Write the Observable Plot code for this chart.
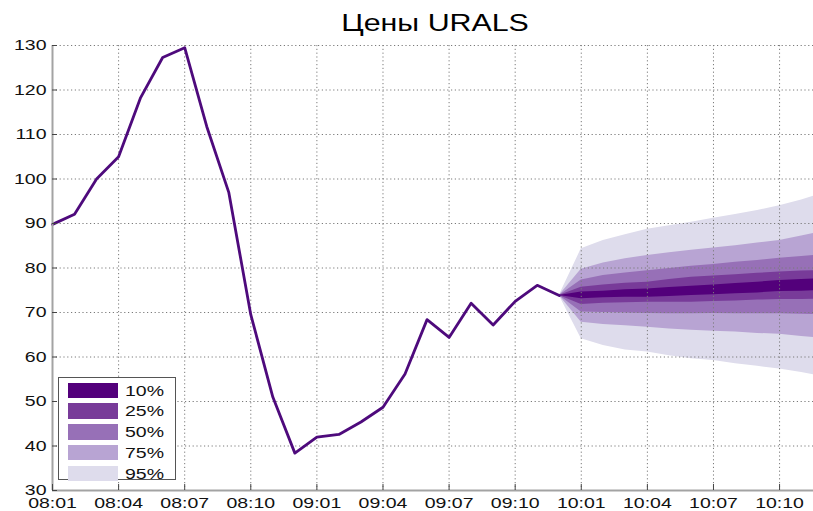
<!DOCTYPE html>
<html>
<head>
<meta charset="utf-8">
<script src="https://cdn.jsdelivr.net/npm/d3@7"></script>
<script src="https://cdn.jsdelivr.net/npm/@observablehq/plot@0.6"></script>
<style>
  html, body { margin: 0; padding: 0; background: #fff; overflow: hidden; }
  #wrap { position: relative; width: 813px; height: 511px; font-family: "Liberation Sans", Arial, sans-serif; }
  #title { position: absolute; left: 0; top: 12px; width: 870px; text-align: center; font-size: 23px; line-height: 23px; color: #000; }
  #title span { display: inline-block; transform: scaleX(1.32); transform-origin: center; }
  #legend { position: absolute; left: 58px; top: 377px; width: 118px; height: 103px; background: #fff; border: 1.3px solid #555; box-sizing: border-box; }
  .lrow { position: absolute; left: 9px; height: 16px; width: 110px; }
  .lsw { position: absolute; left: 0; top: 0; width: 50px; height: 15.5px; }
  .ltx { position: absolute; left: 57px; top: -1px; font-size: 15px; line-height: 18px; transform: scaleX(1.3); transform-origin: left center; color: #111; }
</style>
</head>
<body>
<div id="wrap">
  <div id="chart"></div>
  <div id="title"></div>
  <div id="legend"></div>
</div>
<script>
// ---- data ----
const chartTitle = "Цены URALS";
const months = [
  "08:01","08:02","08:03","08:04","08:05","08:06","08:07","08:08","08:09","08:10","08:11","08:12",
  "09:01","09:02","09:03","09:04","09:05","09:06","09:07","09:08","09:09","09:10","09:11","09:12",
  "10:01","10:02","10:03","10:04","10:05","10:06","10:07","10:08","10:09","10:10","10:11","10:12"
];
const xTickLabels = ["08:01","08:04","08:07","08:10","09:01","09:04","09:07","09:10","10:01","10:04","10:07","10:10"];
const yTicks = [30, 40, 50, 60, 70, 80, 90, 100, 110, 120, 130];

// actual prices 08:01 .. 09:12
const history = [89.8, 92.1, 100.0, 105.0, 118.3, 127.3, 129.5, 111.8, 97.0, 69.5, 51.0, 38.4,
                 42.0, 42.6, 45.4, 48.7, 56.2, 68.4, 64.4, 72.1, 67.2, 72.5, 76.1, 73.8];

// fan chart, months 09:12 .. 10:12
const fanStart = "09:12";
const p95hi = [73.8, 84.3, 86.2, 87.5, 88.7, 89.5, 90.3, 91.2, 92.0, 92.9, 94.0, 95.3, 96.8];
const p75hi = [73.8, 79.7, 81.1, 82.1, 82.8, 83.4, 84.0, 84.5, 85.0, 85.6, 86.2, 87.2, 88.2];
const p50hi = [73.8, 77.3, 78.3, 78.9, 79.4, 79.9, 80.4, 80.8, 81.3, 81.7, 82.2, 82.6, 83.0];
const p25hi = [73.8, 75.7, 76.2, 76.6, 76.8, 77.4, 77.9, 78.2, 78.5, 78.8, 79.1, 79.3, 79.5];
const p10hi = [73.8, 74.6, 74.8, 75.1, 75.3, 75.6, 75.9, 76.2, 76.5, 76.8, 77.2, 77.4, 77.6];
const p10lo = [73.8, 73.1, 73.3, 73.4, 73.4, 73.6, 73.8, 74.0, 74.2, 74.4, 74.7, 74.8, 75.0];
const p25lo = [73.8, 71.8, 72.1, 72.2, 72.3, 72.3, 72.3, 72.5, 72.6, 72.8, 72.9, 72.9, 73.0];
const p50lo = [73.8, 70.1, 70.0, 69.9, 69.8, 69.7, 69.7, 69.8, 69.7, 69.7, 69.7, 69.6, 69.5];
const p75lo = [73.8, 67.8, 67.3, 67.0, 66.7, 66.3, 66.0, 65.8, 65.6, 65.3, 65.1, 64.6, 64.2];
const p95lo = [73.8, 64.1, 62.6, 61.6, 61.1, 60.3, 59.6, 59.2, 58.5, 57.9, 57.3, 56.5, 55.6];

const bandLabels = ["10%", "25%", "50%", "75%", "95%"];
const bandColors = ["#53007b", "#783b99", "#9770b7", "#b8a4d3", "#dedcec"];
const lineColor = "#4e0a7c";

// ---- build tables ----
const histRows = history.map((v, i) => ({i, v}));
const f0 = months.indexOf(fanStart);
const bandsHiLo = [[p10lo, p10hi], [p25lo, p25hi], [p50lo, p50hi], [p75lo, p75hi], [p95lo, p95hi]];
const bandRows = bandsHiLo.map(([lo, hi]) => lo.map((l, k) => ({i: f0 + k, lo: l, hi: hi[k]})));
const xTickPos = xTickLabels.map(l => months.indexOf(l));

const marks = [];
// widest band first
for (let b = bandRows.length - 1; b >= 0; b--) {
  marks.push(Plot.areaY(bandRows[b], {x: "i", y1: "lo", y2: "hi", fill: bandColors[b], fillOpacity: 1, clip: true}));
}
marks.push(
  Plot.gridX(xTickPos.slice(1), {stroke: "#7a7a7a", strokeOpacity: 1, strokeDasharray: "1.2,2.6"}),
  Plot.gridY(yTicks.slice(1), {stroke: "#7a7a7a", strokeOpacity: 1, strokeDasharray: "1.2,2.6"}),
  Plot.line(histRows, {x: "i", y: "v", stroke: lineColor, strokeWidth: 2.8, strokeLinejoin: "round"}),
  Plot.ruleX([0], {stroke: "#a3a3a3", strokeWidth: 2}),
  Plot.ruleY([30], {stroke: "#a3a3a3", strokeWidth: 2}),
  Plot.tickX(xTickPos, {x: d => d, stroke: "#444", insetTop: 439}),
  Plot.tickY(yTicks, {y: d => d, stroke: "#444", insetRight: 756}),
  Plot.axisX(xTickPos, {tickSize: 0, tickPadding: 7, tickFormat: i => months[i], fontSize: 15}),
  Plot.axisY(yTicks, {tickSize: 0, tickPadding: 6, tickFormat: d => String(d), fontSize: 15})
);

const chart = Plot.plot({
  width: 813,
  height: 511,
  marginLeft: 52,
  marginRight: 0,
  marginTop: 45,
  marginBottom: 21,
  x: {domain: [0, 34.54], label: null},
  y: {domain: [30, 130], label: null},
  style: {fontFamily: "Liberation Sans, Arial, sans-serif", fontSize: "15px", color: "#111", background: "#fff", overflow: "visible"},
  marks
});
document.getElementById("chart").appendChild(chart);

// horizontal stretch of the tick labels to match the reference's wide lettering
function stretch(t, s) {
  const tr = t.getAttribute("transform");
  if (tr) t.setAttribute("transform", tr + ` scale(${s},1)`);
  else {
    const x = +(t.getAttribute("x") || 0), y = +(t.getAttribute("y") || 0);
    t.removeAttribute("x"); t.removeAttribute("y");
    t.setAttribute("transform", `translate(${x},${y}) scale(${s},1)`);
  }
}
chart.querySelectorAll('g[aria-label="x-axis tick label"] text, g[aria-label="y-axis tick label"] text')
  .forEach(t => stretch(t, 1.3));

// title
const tspan = document.createElement("span");
tspan.textContent = chartTitle;
document.getElementById("title").appendChild(tspan);

// legend
const leg = document.getElementById("legend");
bandLabels.forEach((lab, k) => {
  const row = document.createElement("div");
  row.className = "lrow";
  row.style.top = (4.5 + k * 20.8) + "px";
  const sw = document.createElement("div");
  sw.className = "lsw";
  sw.style.background = bandColors[k];
  const tx = document.createElement("div");
  tx.className = "ltx";
  tx.textContent = lab;
  row.appendChild(sw); row.appendChild(tx);
  leg.appendChild(row);
});
</script>
</body>
</html>
